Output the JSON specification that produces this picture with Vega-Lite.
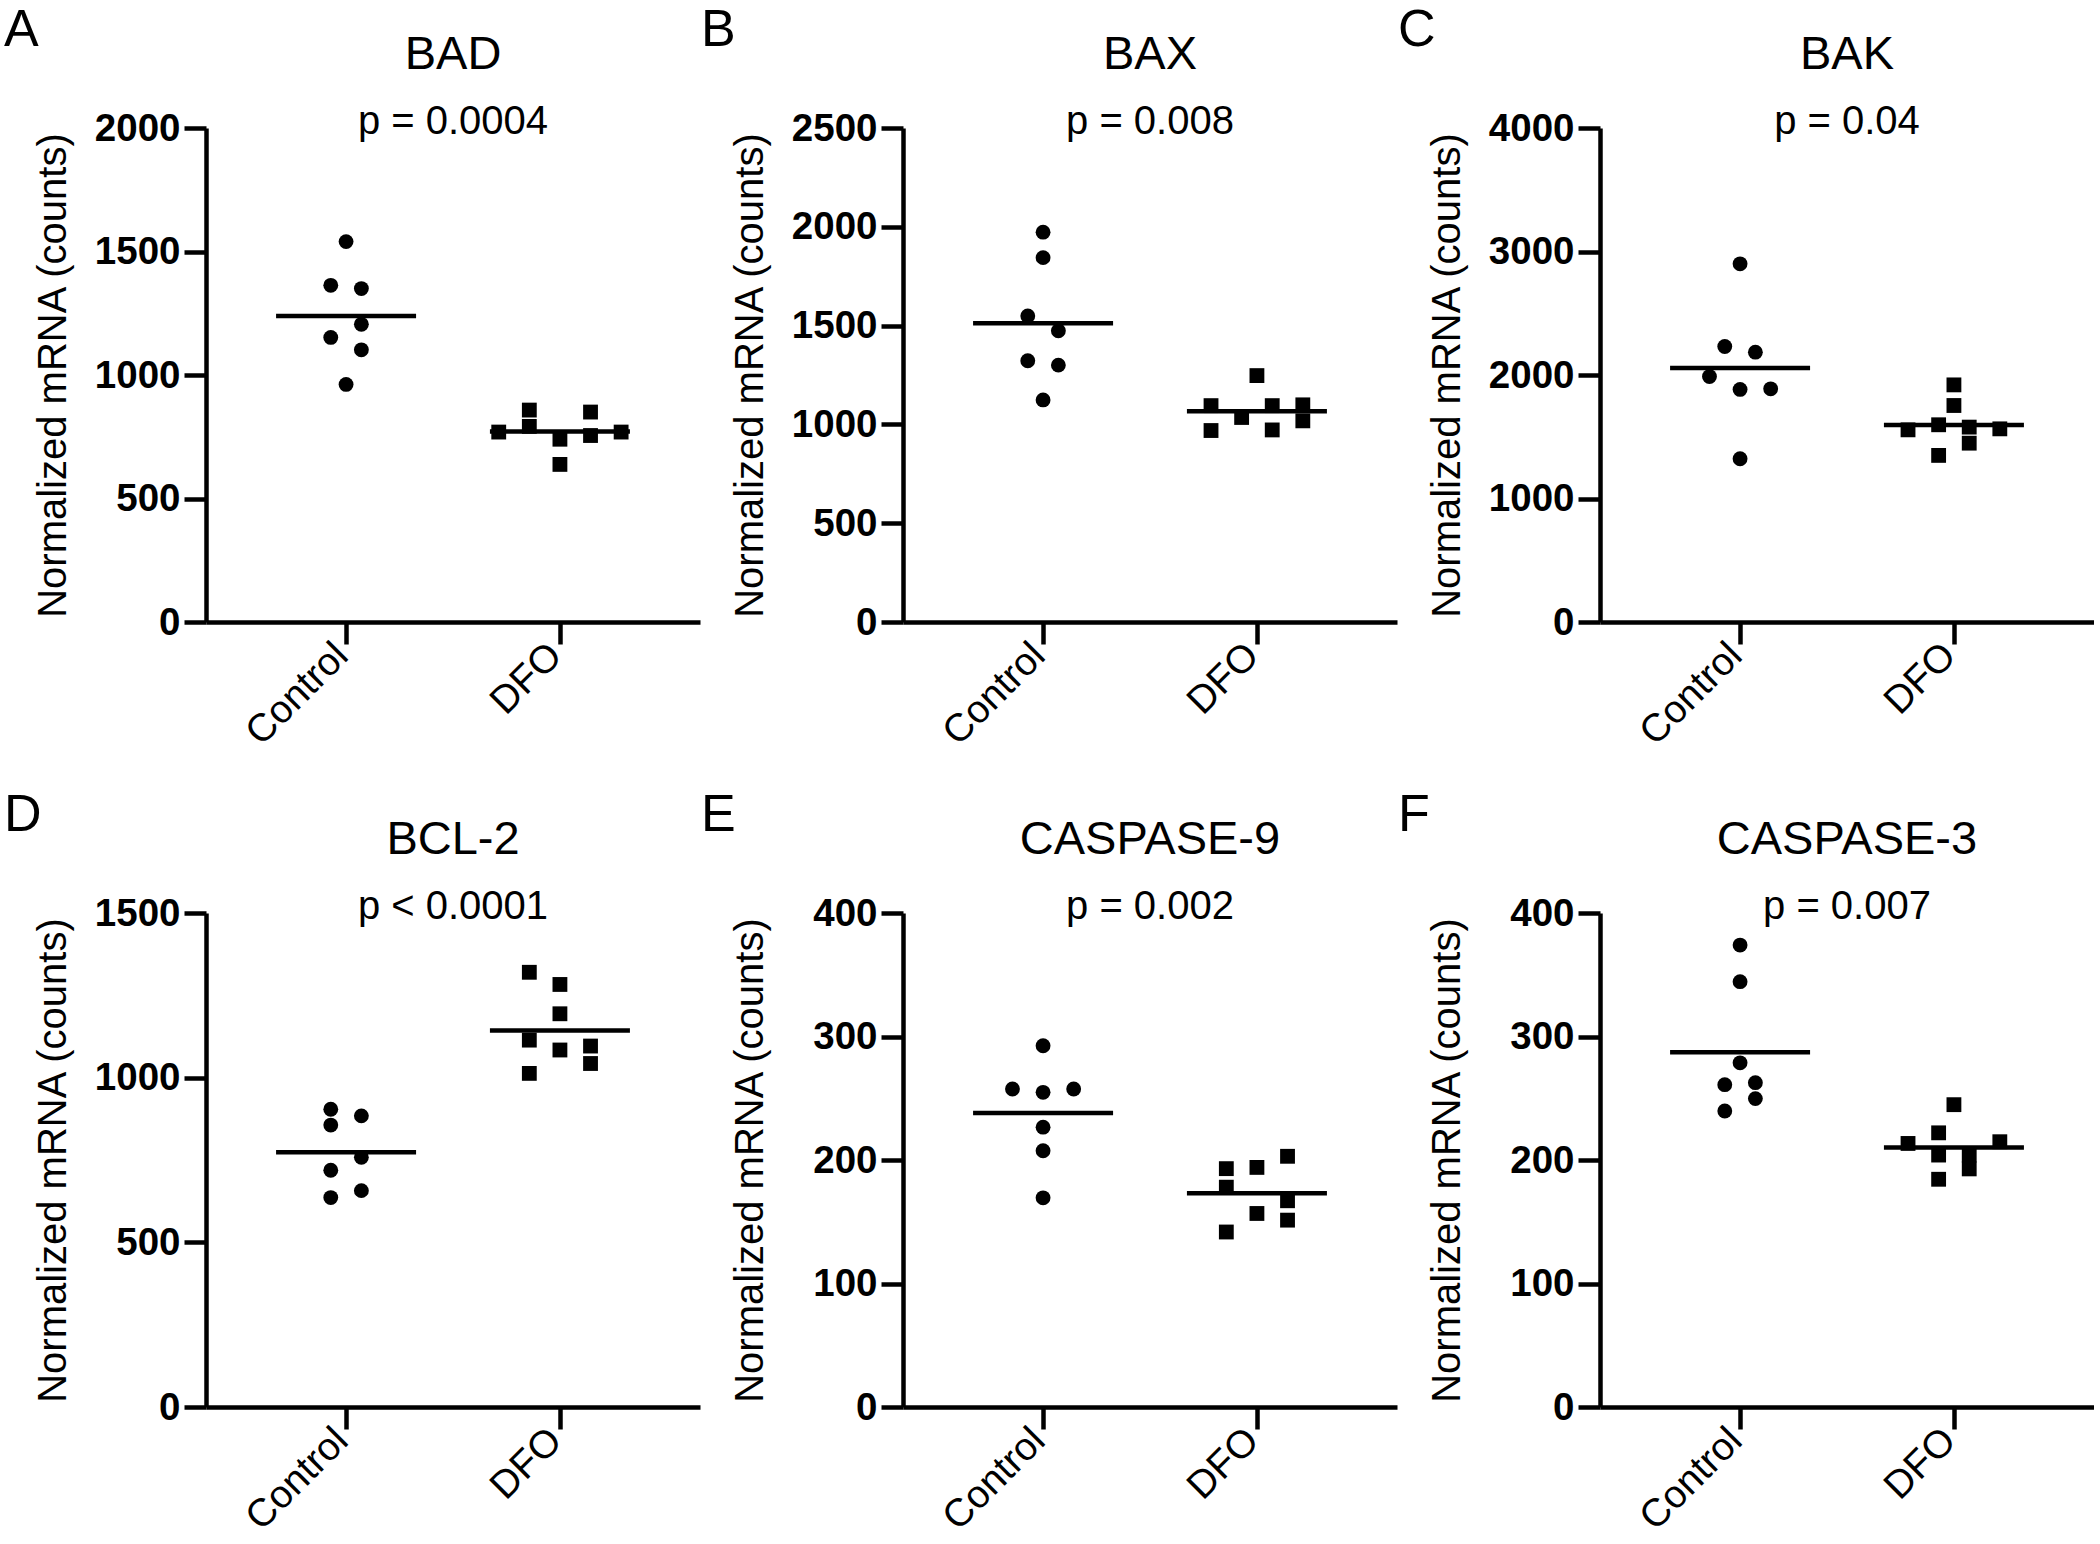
{
  "$schema": "https://vega.github.io/schema/vega-lite/v6.json",
  "background": "white",
  "padding": {"left": 3, "top": 4, "right": 0, "bottom": 0},
  "config": {
    "font": "Liberation Sans",
    "view": {"stroke": null},
    "axis": {"domainColor": "black", "domainWidth": 4.5, "tickColor": "black", "tickWidth": 4.5, "tickSize": 22, "labelColor": "black", "titleColor": "black", "grid": false, "labelFont": "Liberation Sans", "titleFont": "Liberation Sans"},
    "axisY": {"labelFontSize": 38.5, "labelFontWeight": "bold", "labelPadding": 4, "titleFontSize": 40, "titleFontWeight": "normal", "titleX": -133},
    "axisX": {"labelFontSize": 39, "labelFontWeight": "normal", "labelAngle": -45, "labelAlign": "right", "labelBaseline": "middle", "labelPadding": 5, "labelOffset": -5},
    "title": {"font": "Liberation Sans", "fontWeight": "normal", "color": "black", "subtitleFont": "Liberation Sans", "subtitleColor": "black", "subtitleFontSize": 40, "subtitlePadding": 23}
  },
  "datasets": {
    "mrna": [
      {"gene": "BAD", "group": "Control", "value": 1540, "slot": 0},
      {"gene": "BAD", "group": "Control", "value": 1363, "slot": -1},
      {"gene": "BAD", "group": "Control", "value": 1350, "slot": 1},
      {"gene": "BAD", "group": "Control", "value": 1205, "slot": 1},
      {"gene": "BAD", "group": "Control", "value": 1152, "slot": -1},
      {"gene": "BAD", "group": "Control", "value": 1102, "slot": 1},
      {"gene": "BAD", "group": "Control", "value": 962, "slot": 0},
      {"gene": "BAD", "group": "DFO", "value": 769, "slot": -4},
      {"gene": "BAD", "group": "DFO", "value": 858, "slot": -2},
      {"gene": "BAD", "group": "DFO", "value": 792, "slot": -2},
      {"gene": "BAD", "group": "DFO", "value": 740, "slot": 0},
      {"gene": "BAD", "group": "DFO", "value": 638, "slot": 0},
      {"gene": "BAD", "group": "DFO", "value": 850, "slot": 2},
      {"gene": "BAD", "group": "DFO", "value": 755, "slot": 2},
      {"gene": "BAD", "group": "DFO", "value": 769, "slot": 4},
      {"gene": "BAX", "group": "Control", "value": 1973, "slot": 0},
      {"gene": "BAX", "group": "Control", "value": 1844, "slot": 0},
      {"gene": "BAX", "group": "Control", "value": 1549, "slot": -1},
      {"gene": "BAX", "group": "Control", "value": 1474, "slot": 1},
      {"gene": "BAX", "group": "Control", "value": 1322, "slot": -1},
      {"gene": "BAX", "group": "Control", "value": 1300, "slot": 1},
      {"gene": "BAX", "group": "Control", "value": 1124, "slot": 0},
      {"gene": "BAX", "group": "DFO", "value": 1095, "slot": -3},
      {"gene": "BAX", "group": "DFO", "value": 969, "slot": -3},
      {"gene": "BAX", "group": "DFO", "value": 1035, "slot": -1},
      {"gene": "BAX", "group": "DFO", "value": 1247, "slot": 0},
      {"gene": "BAX", "group": "DFO", "value": 1095, "slot": 1},
      {"gene": "BAX", "group": "DFO", "value": 972, "slot": 1},
      {"gene": "BAX", "group": "DFO", "value": 1099, "slot": 3},
      {"gene": "BAX", "group": "DFO", "value": 1018, "slot": 3},
      {"gene": "BAK", "group": "Control", "value": 2900, "slot": 0},
      {"gene": "BAK", "group": "Control", "value": 2231, "slot": -1},
      {"gene": "BAK", "group": "Control", "value": 2185, "slot": 1},
      {"gene": "BAK", "group": "Control", "value": 1988, "slot": -2},
      {"gene": "BAK", "group": "Control", "value": 1883, "slot": 0},
      {"gene": "BAK", "group": "Control", "value": 1888, "slot": 2},
      {"gene": "BAK", "group": "Control", "value": 1322, "slot": 0},
      {"gene": "BAK", "group": "DFO", "value": 1556, "slot": -3},
      {"gene": "BAK", "group": "DFO", "value": 1597, "slot": -1},
      {"gene": "BAK", "group": "DFO", "value": 1349, "slot": -1},
      {"gene": "BAK", "group": "DFO", "value": 1920, "slot": 0},
      {"gene": "BAK", "group": "DFO", "value": 1753, "slot": 0},
      {"gene": "BAK", "group": "DFO", "value": 1578, "slot": 1},
      {"gene": "BAK", "group": "DFO", "value": 1448, "slot": 1},
      {"gene": "BAK", "group": "DFO", "value": 1564, "slot": 3},
      {"gene": "BCL-2", "group": "Control", "value": 904, "slot": -1},
      {"gene": "BCL-2", "group": "Control", "value": 884, "slot": 1},
      {"gene": "BCL-2", "group": "Control", "value": 856, "slot": -1},
      {"gene": "BCL-2", "group": "Control", "value": 758, "slot": 1},
      {"gene": "BCL-2", "group": "Control", "value": 719, "slot": -1},
      {"gene": "BCL-2", "group": "Control", "value": 657, "slot": 1},
      {"gene": "BCL-2", "group": "Control", "value": 636, "slot": -1},
      {"gene": "BCL-2", "group": "DFO", "value": 1320, "slot": -2},
      {"gene": "BCL-2", "group": "DFO", "value": 1283, "slot": 0},
      {"gene": "BCL-2", "group": "DFO", "value": 1194, "slot": 0},
      {"gene": "BCL-2", "group": "DFO", "value": 1114, "slot": -2},
      {"gene": "BCL-2", "group": "DFO", "value": 1084, "slot": 0},
      {"gene": "BCL-2", "group": "DFO", "value": 1096, "slot": 2},
      {"gene": "BCL-2", "group": "DFO", "value": 1043, "slot": 2},
      {"gene": "BCL-2", "group": "DFO", "value": 1013, "slot": -2},
      {"gene": "CASPASE-9", "group": "Control", "value": 292.5, "slot": 0},
      {"gene": "CASPASE-9", "group": "Control", "value": 257.5, "slot": -2},
      {"gene": "CASPASE-9", "group": "Control", "value": 254.8, "slot": 0},
      {"gene": "CASPASE-9", "group": "Control", "value": 257.5, "slot": 2},
      {"gene": "CASPASE-9", "group": "Control", "value": 226.6, "slot": 0},
      {"gene": "CASPASE-9", "group": "Control", "value": 207.5, "slot": 0},
      {"gene": "CASPASE-9", "group": "Control", "value": 169.4, "slot": 0},
      {"gene": "CASPASE-9", "group": "DFO", "value": 193, "slot": -2},
      {"gene": "CASPASE-9", "group": "DFO", "value": 194, "slot": 0},
      {"gene": "CASPASE-9", "group": "DFO", "value": 203, "slot": 2},
      {"gene": "CASPASE-9", "group": "DFO", "value": 178, "slot": -2},
      {"gene": "CASPASE-9", "group": "DFO", "value": 167, "slot": 2},
      {"gene": "CASPASE-9", "group": "DFO", "value": 156.7, "slot": 0},
      {"gene": "CASPASE-9", "group": "DFO", "value": 151.3, "slot": 2},
      {"gene": "CASPASE-9", "group": "DFO", "value": 141.7, "slot": -2},
      {"gene": "CASPASE-3", "group": "Control", "value": 374, "slot": 0},
      {"gene": "CASPASE-3", "group": "Control", "value": 344.4, "slot": 0},
      {"gene": "CASPASE-3", "group": "Control", "value": 278.7, "slot": 0},
      {"gene": "CASPASE-3", "group": "Control", "value": 261, "slot": -1},
      {"gene": "CASPASE-3", "group": "Control", "value": 262.6, "slot": 1},
      {"gene": "CASPASE-3", "group": "Control", "value": 249.7, "slot": 1},
      {"gene": "CASPASE-3", "group": "Control", "value": 239.7, "slot": -1},
      {"gene": "CASPASE-3", "group": "DFO", "value": 213.4, "slot": -3},
      {"gene": "CASPASE-3", "group": "DFO", "value": 222, "slot": -1},
      {"gene": "CASPASE-3", "group": "DFO", "value": 244.8, "slot": 0},
      {"gene": "CASPASE-3", "group": "DFO", "value": 204, "slot": -1},
      {"gene": "CASPASE-3", "group": "DFO", "value": 204, "slot": 1},
      {"gene": "CASPASE-3", "group": "DFO", "value": 192.8, "slot": 1},
      {"gene": "CASPASE-3", "group": "DFO", "value": 184.4, "slot": -1},
      {"gene": "CASPASE-3", "group": "DFO", "value": 214.8, "slot": 3}
    ]
  },
  "columns": 3,
  "spacing": {"row": 36, "column": 0},
  "resolve": {"scale": {"y": "independent"}},
  "concat": [
    {
      "title": {"text": "A", "fontSize": 52, "anchor": "start", "frame": "bounds", "offset": -26, "dx": -29},
      "resolve": {"scale": {"y": "independent"}},
      "vconcat": [{
        "width": 494, "height": 494,
        "title": {"text": "BAD", "subtitle": "p = 0.0004", "fontSize": 47, "anchor": "middle", "frame": "group", "offset": -34},
        "data": {"name": "mrna"},
        "transform": [{"filter": "datum.gene === 'BAD'"}],
        "encoding": {"x": {"field": "group", "type": "nominal", "scale": {"type": "point", "domain": ["Control", "DFO"], "padding": 0.655}, "axis": {"title": null}}},
        "layer": [
          {"mark": {"type": "point", "filled": true, "opacity": 1, "color": "black", "size": 220},
           "encoding": {
             "y": {"field": "value", "type": "quantitative", "scale": {"domain": [0, 2000], "nice": false}, "axis": {"title": "Normalized mRNA (counts)", "format": "d", "values": [0, 500, 1000, 1500, 2000]}},
             "shape": {"field": "group", "type": "nominal", "scale": {"domain": ["Control", "DFO"], "range": ["circle", "square"]}, "legend": null},
             "xOffset": {"field": "slot", "type": "quantitative", "scale": {"domain": [-5, 5], "range": [-76.5, 76.5]}}}},
          {"mark": {"type": "tick", "color": "black", "size": 140, "thickness": 4.5},
           "encoding": {"y": {"aggregate": "mean", "field": "value", "type": "quantitative", "title": "Normalized mRNA (counts)"}}}
        ]
      }]
    },
    {
      "title": {"text": "B", "fontSize": 52, "anchor": "start", "frame": "bounds", "offset": -26, "dx": -29},
      "resolve": {"scale": {"y": "independent"}},
      "vconcat": [{
        "width": 494, "height": 494,
        "title": {"text": "BAX", "subtitle": "p = 0.008", "fontSize": 47, "anchor": "middle", "frame": "group", "offset": -34},
        "data": {"name": "mrna"},
        "transform": [{"filter": "datum.gene === 'BAX'"}],
        "encoding": {"x": {"field": "group", "type": "nominal", "scale": {"type": "point", "domain": ["Control", "DFO"], "padding": 0.655}, "axis": {"title": null}}},
        "layer": [
          {"mark": {"type": "point", "filled": true, "opacity": 1, "color": "black", "size": 220},
           "encoding": {
             "y": {"field": "value", "type": "quantitative", "scale": {"domain": [0, 2500], "nice": false}, "axis": {"title": "Normalized mRNA (counts)", "format": "d", "values": [0, 500, 1000, 1500, 2000, 2500]}},
             "shape": {"field": "group", "type": "nominal", "scale": {"domain": ["Control", "DFO"], "range": ["circle", "square"]}, "legend": null},
             "xOffset": {"field": "slot", "type": "quantitative", "scale": {"domain": [-5, 5], "range": [-76.5, 76.5]}}}},
          {"mark": {"type": "tick", "color": "black", "size": 140, "thickness": 4.5},
           "encoding": {"y": {"aggregate": "mean", "field": "value", "type": "quantitative", "title": "Normalized mRNA (counts)"}}}
        ]
      }]
    },
    {
      "title": {"text": "C", "fontSize": 52, "anchor": "start", "frame": "bounds", "offset": -26, "dx": -29},
      "resolve": {"scale": {"y": "independent"}},
      "vconcat": [{
        "width": 494, "height": 494,
        "title": {"text": "BAK", "subtitle": "p = 0.04", "fontSize": 47, "anchor": "middle", "frame": "group", "offset": -34},
        "data": {"name": "mrna"},
        "transform": [{"filter": "datum.gene === 'BAK'"}],
        "encoding": {"x": {"field": "group", "type": "nominal", "scale": {"type": "point", "domain": ["Control", "DFO"], "padding": 0.655}, "axis": {"title": null}}},
        "layer": [
          {"mark": {"type": "point", "filled": true, "opacity": 1, "color": "black", "size": 220},
           "encoding": {
             "y": {"field": "value", "type": "quantitative", "scale": {"domain": [0, 4000], "nice": false}, "axis": {"title": "Normalized mRNA (counts)", "format": "d", "values": [0, 1000, 2000, 3000, 4000]}},
             "shape": {"field": "group", "type": "nominal", "scale": {"domain": ["Control", "DFO"], "range": ["circle", "square"]}, "legend": null},
             "xOffset": {"field": "slot", "type": "quantitative", "scale": {"domain": [-5, 5], "range": [-76.5, 76.5]}}}},
          {"mark": {"type": "tick", "color": "black", "size": 140, "thickness": 4.5},
           "encoding": {"y": {"aggregate": "mean", "field": "value", "type": "quantitative", "title": "Normalized mRNA (counts)"}}}
        ]
      }]
    },
    {
      "title": {"text": "D", "fontSize": 52, "anchor": "start", "frame": "bounds", "offset": -26, "dx": -29},
      "resolve": {"scale": {"y": "independent"}},
      "vconcat": [{
        "width": 494, "height": 494,
        "title": {"text": "BCL-2", "subtitle": "p < 0.0001", "fontSize": 47, "anchor": "middle", "frame": "group", "offset": -34},
        "data": {"name": "mrna"},
        "transform": [{"filter": "datum.gene === 'BCL-2'"}],
        "encoding": {"x": {"field": "group", "type": "nominal", "scale": {"type": "point", "domain": ["Control", "DFO"], "padding": 0.655}, "axis": {"title": null}}},
        "layer": [
          {"mark": {"type": "point", "filled": true, "opacity": 1, "color": "black", "size": 220},
           "encoding": {
             "y": {"field": "value", "type": "quantitative", "scale": {"domain": [0, 1500], "nice": false}, "axis": {"title": "Normalized mRNA (counts)", "format": "d", "values": [0, 500, 1000, 1500]}},
             "shape": {"field": "group", "type": "nominal", "scale": {"domain": ["Control", "DFO"], "range": ["circle", "square"]}, "legend": null},
             "xOffset": {"field": "slot", "type": "quantitative", "scale": {"domain": [-5, 5], "range": [-76.5, 76.5]}}}},
          {"mark": {"type": "tick", "color": "black", "size": 140, "thickness": 4.5},
           "encoding": {"y": {"aggregate": "mean", "field": "value", "type": "quantitative", "title": "Normalized mRNA (counts)"}}}
        ]
      }]
    },
    {
      "title": {"text": "E", "fontSize": 52, "anchor": "start", "frame": "bounds", "offset": -26, "dx": -29},
      "resolve": {"scale": {"y": "independent"}},
      "vconcat": [{
        "width": 494, "height": 494,
        "title": {"text": "CASPASE-9", "subtitle": "p = 0.002", "fontSize": 47, "anchor": "middle", "frame": "group", "offset": -34},
        "data": {"name": "mrna"},
        "transform": [{"filter": "datum.gene === 'CASPASE-9'"}],
        "encoding": {"x": {"field": "group", "type": "nominal", "scale": {"type": "point", "domain": ["Control", "DFO"], "padding": 0.655}, "axis": {"title": null}}},
        "layer": [
          {"mark": {"type": "point", "filled": true, "opacity": 1, "color": "black", "size": 220},
           "encoding": {
             "y": {"field": "value", "type": "quantitative", "scale": {"domain": [0, 400], "nice": false}, "axis": {"title": "Normalized mRNA (counts)", "format": "d", "values": [0, 100, 200, 300, 400]}},
             "shape": {"field": "group", "type": "nominal", "scale": {"domain": ["Control", "DFO"], "range": ["circle", "square"]}, "legend": null},
             "xOffset": {"field": "slot", "type": "quantitative", "scale": {"domain": [-5, 5], "range": [-76.5, 76.5]}}}},
          {"mark": {"type": "tick", "color": "black", "size": 140, "thickness": 4.5},
           "encoding": {"y": {"aggregate": "mean", "field": "value", "type": "quantitative", "title": "Normalized mRNA (counts)"}}}
        ]
      }]
    },
    {
      "title": {"text": "F", "fontSize": 52, "anchor": "start", "frame": "bounds", "offset": -26, "dx": -29},
      "resolve": {"scale": {"y": "independent"}},
      "vconcat": [{
        "width": 494, "height": 494,
        "title": {"text": "CASPASE-3", "subtitle": "p = 0.007", "fontSize": 47, "anchor": "middle", "frame": "group", "offset": -34},
        "data": {"name": "mrna"},
        "transform": [{"filter": "datum.gene === 'CASPASE-3'"}],
        "encoding": {"x": {"field": "group", "type": "nominal", "scale": {"type": "point", "domain": ["Control", "DFO"], "padding": 0.655}, "axis": {"title": null}}},
        "layer": [
          {"mark": {"type": "point", "filled": true, "opacity": 1, "color": "black", "size": 220},
           "encoding": {
             "y": {"field": "value", "type": "quantitative", "scale": {"domain": [0, 400], "nice": false}, "axis": {"title": "Normalized mRNA (counts)", "format": "d", "values": [0, 100, 200, 300, 400]}},
             "shape": {"field": "group", "type": "nominal", "scale": {"domain": ["Control", "DFO"], "range": ["circle", "square"]}, "legend": null},
             "xOffset": {"field": "slot", "type": "quantitative", "scale": {"domain": [-5, 5], "range": [-76.5, 76.5]}}}},
          {"mark": {"type": "tick", "color": "black", "size": 140, "thickness": 4.5},
           "encoding": {"y": {"aggregate": "mean", "field": "value", "type": "quantitative", "title": "Normalized mRNA (counts)"}}}
        ]
      }]
    }
  ]
}
